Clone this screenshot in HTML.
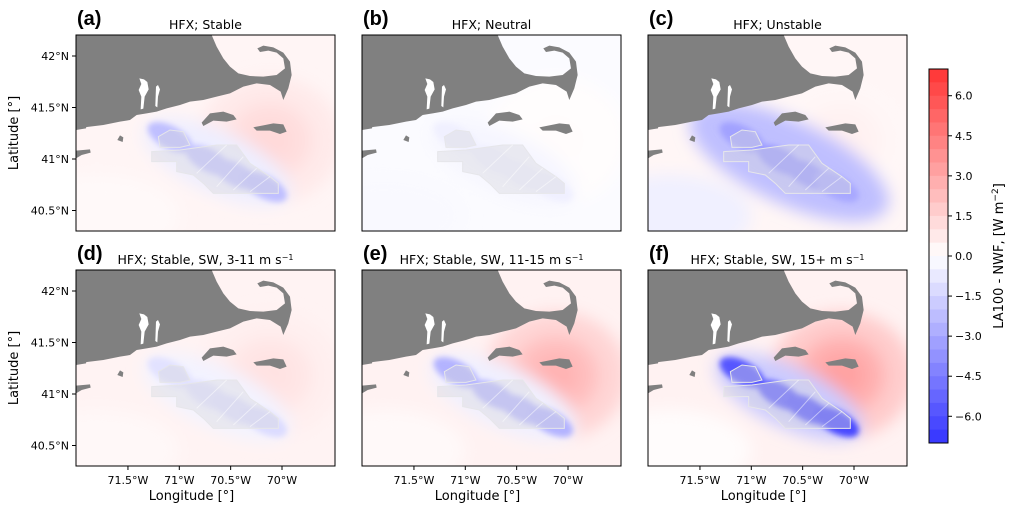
<!DOCTYPE html>
<html><head><meta charset="utf-8"><style>
body{margin:0;background:#fff;}
svg{display:block;font-family:"DejaVu Sans","Liberation Sans",sans-serif;}
</style></head><body>
<svg id="fig" width="1014" height="510" viewBox="0 0 1014 510" xmlns="http://www.w3.org/2000/svg">
<defs>
  <filter id="blur" x="-50%" y="-50%" width="200%" height="200%"><feGaussianBlur stdDeviation="8"/></filter>
  <filter id="blur2" x="-50%" y="-50%" width="200%" height="200%"><feGaussianBlur stdDeviation="3"/></filter>
  <g id="land">
    <path fill="#808080" d="M18,15 L425,15 L440,50 L460,85 L480,110 L505,130 L540,138 L580,140 L620,135 L645,115 L640,85 L620,68 L595,62 L570,66 L562,55 L580,47 L610,52 L640,68 L660,95 L665,135 L655,175 L640,210 L632,185 L600,165 L560,160 L520,170 L480,190 L440,200 L400,210 L360,215 L330,225 L290,235 L260,245 L230,250 L200,255 L180,270 L150,275 L100,285 L60,290 L18,295 Z"/>
    <path fill="#fff" d="M208,145 L214,162 L206,180 L214,200 L212,238 L220,236 L224,200 L236,178 L232,156 L222,148 Z M258,170 L264,165 L270,178 L264,200 L262,232 L256,228 Z"/>
    <path fill="#808080" d="M395,278 L420,250 L460,245 L490,255 L500,268 L470,275 L430,272 L400,288 Z"/>
    <path fill="#808080" d="M550,292 L580,286 L610,280 L640,283 L650,305 L630,312 L600,302 L560,302 Z"/>
    <path fill="#808080" d="M142,330 L150,316 L160,322 L158,336 Z"/>
    <path fill="#808080" d="M18,362 L60,358 L62,368 L35,375 L18,385 Z M18,288 L50,285 L48,295 L18,300 Z"/>
  </g>
  <g id="lease">
    <path fill="#d8d8dc" fill-opacity="0.4" stroke="#e6e6ea" stroke-width="3" d="M265,320 L300,300 L340,305 L360,345 L330,352 L270,352 Z M245,365 L330,360 L440,345 L500,345 L540,400 L600,440 L625,460 L625,490 L430,490 L400,460 L370,435 L320,425 L320,395 L245,395 Z"/>
    <path stroke="#fff" stroke-opacity="0.5" stroke-width="3" fill="none" d="M380,430 L470,345 M440,470 L520,380 M490,480 L560,415 M540,485 L600,440"/>
  </g>
</defs>
<g id="panels"></g>
<g id="cbar"></g>
<text transform="translate(1003,256) rotate(-90)" text-anchor="middle" font-size="13">LA100 - NWF,  [W m<tspan baseline-shift="super" font-size="9">−2</tspan>]</text>
</svg>
<script>
// ---- data ----
const panelLetters = ["(a)","(b)","(c)","(d)","(e)","(f)"];
const panelTitles = ["HFX; Stable","HFX; Neutral","HFX; Unstable","HFX; Stable, SW, 3-11 m s","HFX; Stable, SW, 11-15 m s","HFX; Stable, SW, 15+ m s"];
const bgVal   = [0.35, -0.15, 0.3, 0.4, 0.45, 0.45];
const swVal   = [0.2, -0.2, -0.5, 0.25, 0.2, 0.1];
const redVal  = [1.3, 0.1, 0.5, 1.0, 2.6, 3.2];
const haloVal = [-0.6, -0.3, -2.2, -0.4, -0.5, -1.8];
const farmVals = [
  [-2.2,-2.0,-2.0,-2.2],
  [-0.5,-0.5,-0.5,-0.5],
  [-3.2,-3.5,-3.5,-3.0],
  [-1.0,-1.0,-1.1,-1.2],
  [-2.6,-2.4,-2.4,-2.6],
  [-5.8,-5.5,-5.8,-6.2]];
const farmLon = [-71.09,-70.72,-70.45,-70.17];
const farmLat = [41.21,40.99,40.85,40.73];
const redLon = -70.12, redLat = 41.18;
const latTicks = [42,41.5,41,40.5];
const latLabels = ["42°N","41.5°N","41°N","40.5°N"];
const lonTicks = [-71.5,-71,-70.5,-70];
const lonLabels = ["71.5°W","71°W","70.5°W","70°W"];
const cbTicks = [6,4.5,3,1.5,0,-1.5,-3,-4.5,-6];
const cbLabels = ["6.0","4.5","3.0","1.5","0.0","−1.5","−3.0","−4.5","−6.0"];

// ---- geometry ----
const colX=[76,362,648], rowY=[35,270], PW=259, PH=196;
const xLon = lon => 206 + (lon+70)*102.7;   // panel-relative
const yLat = lat => 124 - (lat-41)*103;
const degX = d => d*102.7, degY = d => d*103;
const NS="http://www.w3.org/2000/svg";
function color(v){
  let t=Math.max(-1,Math.min(1,v/7));
  let r,g,b;
  if(t<0){const s=1+t; r=g=s; b=1;} else {const s=1-t; r=1; g=b=s;}
  const f=c=>Math.round(255*(0.2+0.8*c));
  return `rgb(${f(r)},${f(g)},${f(b)})`;
}
function el(tag,attrs,parent){const e=document.createElementNS(NS,tag);for(const k in attrs)e.setAttribute(k,attrs[k]);parent.appendChild(e);return e;}

const root=document.getElementById('panels');
for(let i=0;i<6;i++){
  const px=colX[i%3], py=rowY[Math.floor(i/3)];
  const g=el('g',{transform:`translate(${px},${py})`},root);
  
  
  const cp=el('clipPath',{id:'cp'+i},g); el('rect',{x:0,y:0,width:PW,height:PH},cp);
  const f=el('g',{'clip-path':`url(#cp${i})`},g);
  el('rect',{x:0,y:0,width:PW,height:PH,fill:color(bgVal[i])},f);
  const fl=el('g',{filter:'url(#blur)'},f);
  const sw=el('ellipse',{cx:xLon(-71.8),cy:yLat(40.45),rx:degX(0.8),ry:degY(0.4),fill:color(swVal[i])},fl);
  
  
  const rr=el('ellipse',{cx:xLon(redLon),cy:yLat(redLat),rx:degX(0.7),ry:degY(0.62),fill:color(redVal[i]*0.55)},fl);
  
  
  const r2=el('ellipse',{cx:xLon(redLon),cy:yLat(redLat),rx:degX(0.42),ry:degY(0.38),fill:color(redVal[i]*0.85)},fl);
  
  
  const r3=el('ellipse',{cx:xLon(redLon),cy:yLat(redLat),rx:degX(0.22),ry:degY(0.2),fill:color(redVal[i])},fl);
  
  
  const cxh=xLon((farmLon[0]+farmLon[3])/2), cyh=yLat((farmLat[0]+farmLat[3])/2);
  const big = i===2 ? 1.35 : 1;
  const h=el('ellipse',{cx:cxh,cy:cyh,rx:degX(0.78*big),ry:degY(0.3*big),transform:`rotate(25 ${cxh} ${cyh})`,fill:color(haloVal[i])},fl);
  
  
  const fb=el('g',{filter:'url(#blur2)'},f);
  for(let k=0;k<4;k++){
    const e=el('ellipse',{cx:xLon(farmLon[k]),cy:yLat(farmLat[k]),rx:degX(0.24),ry:degY(0.11),transform:`rotate(28 ${xLon(farmLon[k])} ${yLat(farmLat[k])})`,fill:color(farmVals[i][k])},fb);
    
    
  }
  const ls=el('use',{href:'#lease',transform:'translate(-6,-5) scale(0.3333)'},f);
  
  
  const ld=el('use',{href:'#land',transform:'translate(-6,-5) scale(0.3333)'},f);
  
  
  el('rect',{x:0,y:0,width:PW,height:PH,fill:'none',stroke:'#000','stroke-width':1},g);
  const lt=el('text',{x:1,y:-10,'font-size':20,'font-weight':'bold','font-family':'Liberation Sans, sans-serif'},g);
  lt.textContent=panelLetters[i];
  
  
  const tt=el('text',{x:PW/2,y:-6,'text-anchor':'middle','font-size':12.5},g);
  tt.textContent=panelTitles[i];
  if(i>=3){const s=el('tspan',{'baseline-shift':'super','font-size':8},tt); s.textContent='−1';}
  
  
  if(i%3===0){
    latTicks.forEach((v,k)=>{
      el('line',{x1:-4,x2:0,y1:yLat(v),y2:yLat(v),stroke:'#000'},g);
      const t=el('text',{x:-7,y:yLat(v)+4,'text-anchor':'end','font-size':11},g);
      t.textContent=latLabels[k];
      
      
    });
    const yt=el('text',{transform:`translate(-58,${PH/2}) rotate(-90)`,'text-anchor':'middle','font-size':13},g);
    yt.textContent='Latitude [°]';
    
    
  }
  if(i>=3){
    lonTicks.forEach((v,k)=>{
      el('line',{x1:xLon(v),x2:xLon(v),y1:PH,y2:PH+4,stroke:'#000'},g);
      const t=el('text',{x:xLon(v),y:PH+18,'text-anchor':'middle','font-size':11},g);
      t.textContent=lonLabels[k];
      
      
    });
    const xt=el('text',{x:PW/2-14,y:PH+34,'text-anchor':'middle','font-size':13},g);
    xt.textContent='Longitude [°]';
    
    
  }
}
// colorbar
const cb=document.getElementById('cbar');
const cbTop=69, cbBot=443, cbX=929, cbW=19;
const yCb=v=>cbTop+(7-v)/14*(cbBot-cbTop);
for(let v=7;v>-7;v-=0.5){
  const r=el('rect',{x:cbX,y:yCb(v),width:cbW,height:yCb(v-0.5)-yCb(v)+0.5,fill:color(v-0.25)},cb);
  
  
}
el('rect',{x:cbX,y:cbTop,width:cbW,height:cbBot-cbTop,fill:'none',stroke:'#000'},cb);
cbTicks.forEach((v,k)=>{
  el('line',{x1:cbX+cbW,x2:cbX+cbW+4,y1:yCb(v),y2:yCb(v),stroke:'#000'},cb);
  const t=el('text',{x:cbX+cbW+7,y:yCb(v)+4,'font-size':11},cb);
  t.textContent=cbLabels[k];
  
  
});
</script>
</body></html>
